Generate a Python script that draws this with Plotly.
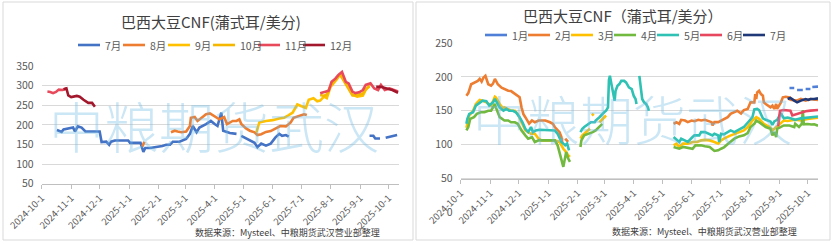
import plotly.graph_objects as go

W, H = 833, 244

# ---------------- data ----------------
TICK_DATES = ["2024-10-01", "2024-11-01", "2024-12-01", "2025-01-01", "2025-02-01", "2025-03-01",
              "2025-04-01", "2025-05-01", "2025-06-01", "2025-07-01", "2025-08-01", "2025-09-01",
              "2025-10-01"]
TICK_TEXT = ["2024-10-1", "2024-11-1", "2024-12-1", "2025-1-1", "2025-2-1", "2025-3-1",
             "2025-4-1", "2025-5-1", "2025-6-1", "2025-7-1", "2025-8-1", "2025-9-1", "2025-10-1"]

TITLE_L = "巴西大豆CNF(蒲式耳/美分)"
TITLE_R = "巴西大豆CNF（蒲式耳/美分）"
SOURCE = "数据来源：Mysteel、中粮期货武汉营业部整理"
WATERMARK = "中粮期货武汉"

# Left chart series
L_NAMES = ["7月", "8月", "9月", "10月", "11月", "12月"]
L_COLORS = ["#4472c4", "#ed7d31", "#ffc000", "#f5b700", "#e84a5c", "#a3172c"]

L_JUL = [("2024-10-17", 187), ("2024-10-22", 182), ("2024-10-24", 188), ("2024-10-31", 191),
         ("2024-11-03", 193), ("2024-11-05", 183), ("2024-11-08", 196), ("2024-11-12", 193),
         ("2024-11-14", 188), ("2024-11-16", 183), ("2024-12-01", 183), ("2024-12-03", 156),
         ("2024-12-08", 157), ("2024-12-11", 149), ("2024-12-13", 157), ("2024-12-17", 160),
         ("2024-12-31", 160), ("2025-01-02", 154), ("2025-01-13", 154), ("2025-01-14", 147),
         ("2025-01-16", 131), ("2025-01-18", 141), ("2025-01-23", 141), ("2025-02-05", 146),
         ("2025-02-09", 149), ("2025-02-13", 149), ("2025-02-16", 157), ("2025-02-23", 157),
         ("2025-03-02", 164), ("2025-03-06", 177), ("2025-03-09", 197), ("2025-03-13", 181),
         ("2025-03-16", 193), ("2025-03-23", 202), ("2025-03-28", 210), ("2025-04-01", 202),
         ("2025-04-04", 197), ("2025-04-08", 231), ("2025-04-10", 185), ("2025-04-17", 179),
         ("2025-04-24", 177), ("2025-04-26", None), ("2025-04-29", 172), ("2025-05-08", 160),
         ("2025-05-13", 154), ("2025-05-16", 143), ("2025-05-20", 152), ("2025-05-25", 147),
         ("2025-05-30", 152), ("2025-06-04", 168), ("2025-06-08", 177), ("2025-06-11", 172),
         ("2025-06-15", 174), ("2025-06-18", 170), ("2025-06-19", None), ("2025-09-11", 172),
         ("2025-09-15", 172), ("2025-09-17", 165), ("2025-09-22", 165), ("2025-09-24", None),
         ("2025-09-28", 167), ("2025-10-04", 170), ("2025-10-10", 174)]

L_AUG = [("2025-01-15", 145), ("2025-01-17", 157), ("2025-01-18", None), ("2025-02-14", 181),
         ("2025-02-18", 185), ("2025-02-21", 183), ("2025-02-25", 181), ("2025-03-02", 183),
         ("2025-03-06", 197), ("2025-03-07", 218), ("2025-03-11", 220), ("2025-03-14", 210),
         ("2025-03-18", 218), ("2025-03-23", 227), ("2025-03-27", 229), ("2025-04-01", 222),
         ("2025-04-06", 214), ("2025-04-11", 220), ("2025-04-14", 202), ("2025-04-20", 210),
         ("2025-04-24", 210), ("2025-04-27", 214), ("2025-04-29", 202), ("2025-05-04", 191),
         ("2025-05-08", 185), ("2025-05-13", 181), ("2025-05-16", 174), ("2025-05-20", 176),
         ("2025-05-25", 182), ("2025-05-30", 184), ("2025-06-04", 191), ("2025-06-09", 197),
         ("2025-06-15", 196), ("2025-06-20", 206), ("2025-06-23", 218), ("2025-06-29", 222),
         ("2025-07-04", 227), ("2025-07-07", 225)]

L_SEP = [("2025-05-15", 181), ("2025-05-18", 206), ("2025-05-25", 210), ("2025-06-01", 212),
         ("2025-06-08", 216), ("2025-06-13", 218), ("2025-06-16", 222), ("2025-06-22", 231),
         ("2025-06-27", 252), ("2025-07-02", 248), ("2025-07-06", 243), ("2025-07-09", 264),
         ("2025-07-14", 268), ("2025-07-18", 260), ("2025-07-21", 262), ("2025-07-25", 272),
         ("2025-07-28", 268), ("2025-08-01", 297), ("2025-08-04", 306), ("2025-08-08", 318),
         ("2025-08-11", 331), ("2025-08-14", 318), ("2025-08-17", 306), ("2025-08-20", 297),
         ("2025-08-24", 277), ("2025-08-29", 272), ("2025-09-04", 275), ("2025-09-07", 289),
         ("2025-09-11", 302)]

L_OCT = [("2025-07-21", 276), ("2025-07-25", 274), ("2025-07-28", 278), ("2025-08-01", 300),
         ("2025-08-04", 309), ("2025-08-08", 320), ("2025-08-11", 328), ("2025-08-14", 316),
         ("2025-08-17", 304), ("2025-08-20", 292), ("2025-08-24", 275), ("2025-08-29", 276),
         ("2025-09-04", 280), ("2025-09-07", 291), ("2025-09-11", 298)]

L_NOV = [("2024-10-07", 285), ("2024-10-10", 284), ("2024-10-13", 281), ("2024-10-16", 284),
         ("2024-10-19", 290), ("2024-10-23", 289), ("2024-10-27", 293), ("2024-10-28", None),
         ("2025-07-21", 281), ("2025-07-26", 285), ("2025-07-30", 287), ("2025-08-02", 310),
         ("2025-08-06", 318), ("2025-08-09", 327), ("2025-08-13", 335), ("2025-08-17", 310),
         ("2025-08-20", 306), ("2025-08-24", 285), ("2025-08-27", 281), ("2025-08-31", 283),
         ("2025-09-04", 289), ("2025-09-07", 302), ("2025-09-12", 306), ("2025-09-16", 293),
         ("2025-09-20", 289), ("2025-09-23", 302), ("2025-09-27", 289), ("2025-10-02", 293),
         ("2025-10-07", 289), ("2025-10-11", 285)]

L_DEC = [("2024-10-24", 291), ("2024-10-27", 293), ("2024-10-29", 275), ("2024-11-01", 271),
         ("2024-11-07", 274), ("2024-11-10", 272), ("2024-11-14", 264), ("2024-11-19", 256),
         ("2024-11-23", 256), ("2024-11-24", 252), ("2024-11-26", 246), ("2024-11-27", None),
         ("2025-09-18", 297), ("2025-09-23", 297), ("2025-09-29", 293), ("2025-10-05", 289),
         ("2025-10-11", 282)]

# Right chart series
R_NAMES = ["1月", "2月", "3月", "4月", "5月", "6月", "7月"]
R_COLORS = ["#4f7fd6", "#ed7d31", "#ffc000", "#72b940", "#2ec1b4", "#e8485f", "#1f3878"]

R_JAN = [("2025-09-12", 183.5), ("2025-09-17", 183.5), ("2025-09-18", None), ("2025-09-20", 180.5),
         ("2025-09-26", 180.5), ("2025-09-27", None), ("2025-09-29", 182), ("2025-10-04", 182),
         ("2025-10-05", None), ("2025-10-06", 185), ("2025-10-12", 185.5)]

R_FEB = [("2024-10-07", 172), ("2024-10-09", 176), ("2024-10-12", 189), ("2024-10-16", 192),
         ("2024-10-19", 194), ("2024-10-21", 197), ("2024-10-23", 193), ("2024-10-25", 199),
         ("2024-10-27", 201.5), ("2024-10-30", 189), ("2024-11-02", 187), ("2024-11-04", 190),
         ("2024-11-06", 197), ("2024-11-08", 192), ("2024-11-09", 189), ("2024-11-13", 184),
         ("2024-11-16", 182), ("2024-11-20", 179.5), ("2024-11-23", 179), ("2024-11-27", 175),
         ("2024-11-30", 172), ("2024-12-02", 170), ("2024-12-04", 155), ("2024-12-06", 145),
         ("2024-12-08", 140.5), ("2024-12-10", 136), ("2024-12-12", 131), ("2024-12-15", 135.6),
         ("2024-12-18", 133), ("2024-12-22", 135.6), ("2024-12-26", 135.6), ("2024-12-29", 135.6),
         ("2025-01-03", 133), ("2025-01-06", 130.7), ("2025-01-08", 126), ("2025-01-13", 118.5),
         ("2025-01-15", 111), ("2025-01-16", 101.5), ("2025-01-17", None), ("2025-01-19", 108.8),
         ("2025-01-22", 104), ("2025-01-23", None),
         ("2025-05-13", 130.7), ("2025-05-16", 133), ("2025-05-19", 130.7), ("2025-05-21", 136.6),
         ("2025-05-25", 135.6), ("2025-05-28", 133.2), ("2025-06-01", 135.6), ("2025-06-04", 134.6),
         ("2025-06-08", 136.6), ("2025-06-11", 135.6), ("2025-06-15", 136.6), ("2025-06-18", 135.6),
         ("2025-06-22", 133.2), ("2025-06-23", 128.3), ("2025-06-25", 133.2), ("2025-06-29", 133.2),
         ("2025-07-02", 135.6), ("2025-07-05", 138), ("2025-07-09", 140.5), ("2025-07-12", 145.4),
         ("2025-07-16", 147.8), ("2025-07-19", 150), ("2025-07-23", 146), ("2025-07-26", 151),
         ("2025-07-30", 152.7), ("2025-08-01", 160), ("2025-08-02", 162.4), ("2025-08-06", 162.4),
         ("2025-08-07", 174.6), ("2025-08-08", 167.3), ("2025-08-09", 177), ("2025-08-11", 179.5),
         ("2025-08-13", 174.6), ("2025-08-15", 172.2), ("2025-08-16", 162.4), ("2025-08-18", 160),
         ("2025-08-20", 157.6), ("2025-08-23", 155), ("2025-08-25", 157.6), ("2025-08-27", 152.7),
         ("2025-08-29", 160), ("2025-08-30", 152.7), ("2025-09-03", 162.4), ("2025-09-05", 169.8),
         ("2025-09-08", 170.7), ("2025-09-12", 169.8), ("2025-09-13", 166), ("2025-09-17", 164.9),
         ("2025-09-20", 165), ("2025-09-24", 167.3), ("2025-09-29", 164.9), ("2025-10-04", 167.3),
         ("2025-10-12", 166)]

R_MAR = [("2024-10-07", 125), ("2024-10-10", 143), ("2024-10-14", 150), ("2024-10-17", 160),
         ("2024-10-21", 165.9), ("2024-10-24", 164.9), ("2024-10-28", 162.4), ("2024-11-02", 157.6),
         ("2024-11-06", 170.7), ("2024-11-07", 169.8), ("2024-11-11", 160), ("2024-11-15", 152.7),
         ("2024-11-16", 155), ("2024-11-20", 152.7), ("2024-11-23", 150), ("2024-11-27", 150),
         ("2024-11-30", 145.4), ("2024-12-04", 133), ("2024-12-08", 121), ("2024-12-11", 118.5),
         ("2024-12-14", 116), ("2024-12-18", 116), ("2024-12-22", 108.8), ("2024-12-25", 106.3),
         ("2025-01-02", 106.3), ("2025-01-08", 106.3), ("2025-01-13", 104), ("2025-01-17", 94),
         ("2025-01-20", 89), ("2025-01-22", 84.4), ("2025-01-24", 82), ("2025-01-25", None),
         ("2025-02-04", 108.8), ("2025-02-06", 113.7), ("2025-02-10", 118.5), ("2025-02-14", 123.4),
         ("2025-02-15", None), ("2025-02-16", 145.4), ("2025-02-18", 143), ("2025-02-19", None),
         ("2025-02-24", 133), ("2025-02-27", 138), ("2025-03-03", 143), ("2025-03-04", None),
         ("2025-05-13", 99), ("2025-05-16", 101.5), ("2025-05-19", 96.6), ("2025-05-23", 101.5),
         ("2025-05-28", 101.5), ("2025-06-02", 104), ("2025-06-07", 104), ("2025-06-11", 106.3),
         ("2025-06-15", 107), ("2025-06-20", 106.3), ("2025-06-25", 104), ("2025-06-29", 101.5),
         ("2025-07-02", 106.3), ("2025-07-05", 109), ("2025-07-11", 113), ("2025-07-16", 116),
         ("2025-07-21", 118.5), ("2025-07-26", 121), ("2025-07-30", 126), ("2025-08-04", 135.6),
         ("2025-08-08", 140.5), ("2025-08-11", 138), ("2025-08-16", 130.7), ("2025-08-22", 126),
         ("2025-08-25", 121), ("2025-08-29", 126), ("2025-09-03", 133.2), ("2025-09-06", 135.6),
         ("2025-09-10", 135), ("2025-09-13", 135.6), ("2025-09-18", 136.6), ("2025-09-24", 135.6),
         ("2025-10-01", 138), ("2025-10-12", 139.6)]

R_APR = [("2024-10-07", 121), ("2024-10-09", 125.9), ("2024-10-11", 138), ("2024-10-15", 140.5),
         ("2024-10-18", 145.4), ("2024-10-22", 147.8), ("2024-10-26", 147.8), ("2024-10-30", 150),
         ("2024-11-02", 150), ("2024-11-04", 155), ("2024-11-06", 160), ("2024-11-07", 155),
         ("2024-11-11", 140.5), ("2024-11-16", 135.6), ("2024-11-20", 135.6), ("2024-11-23", 133),
         ("2024-11-27", 133), ("2024-11-30", 130.7), ("2024-12-04", 121), ("2024-12-08", 113.7),
         ("2024-12-11", 108.8), ("2024-12-15", 111), ("2024-12-18", 103.9), ("2024-12-22", 106.3),
         ("2025-01-02", 106.3), ("2025-01-08", 106.3), ("2025-01-11", 99), ("2025-01-13", 89),
         ("2025-01-15", 77), ("2025-01-17", 67.3), ("2025-01-19", 82), ("2025-01-20", 89),
         ("2025-01-22", 80), ("2025-01-23", 77), ("2025-01-24", 74.6), ("2025-01-25", None),
         ("2025-02-04", 96.6), ("2025-02-05", 106.3), ("2025-02-08", 113.7), ("2025-02-13", 116),
         ("2025-02-17", 118.5), ("2025-02-20", 121), ("2025-02-24", 125.9), ("2025-02-27", 130.7),
         ("2025-03-01", None),
         ("2025-05-13", 96.6), ("2025-05-16", 95.5), ("2025-05-19", 94), ("2025-05-23", 96.6),
         ("2025-05-28", 95.5), ("2025-06-02", 94), ("2025-06-05", 99), ("2025-06-11", 99),
         ("2025-06-15", 97.6), ("2025-06-20", 96.6), ("2025-06-25", 90.7), ("2025-06-29", 91.7),
         ("2025-07-02", 94), ("2025-07-05", 96), ("2025-07-11", 103), ("2025-07-16", 108.8),
         ("2025-07-21", 112.2), ("2025-07-26", 113.7), ("2025-07-30", 117), ("2025-08-02", 126),
         ("2025-08-06", 130.7), ("2025-08-08", 135.6), ("2025-08-11", 133.2), ("2025-08-15", 128.3),
         ("2025-08-18", 126), ("2025-08-23", 123.4), ("2025-08-25", 113.7), ("2025-08-27", 118.5),
         ("2025-08-29", 111.2), ("2025-08-30", 123.4), ("2025-09-03", 126), ("2025-09-06", 128.3),
         ("2025-09-12", 128.3), ("2025-09-17", 126), ("2025-09-18", 130.7), ("2025-09-22", 126),
         ("2025-09-25", 131), ("2025-09-26", 151), ("2025-09-27", 130), ("2025-10-01", 130.5),
         ("2025-10-05", 129.7), ("2025-10-08", 130), ("2025-10-12", 128)]

R_MAY = [("2024-10-07", 130.7), ("2024-10-08", 138), ("2024-10-10", 145.4), ("2024-10-14", 147.8),
         ("2024-10-17", 157.6), ("2024-10-21", 162.4), ("2024-10-24", 164.9), ("2024-10-28", 164),
         ("2024-10-31", 157.6), ("2024-11-04", 162.4), ("2024-11-06", 167.3), ("2024-11-07", 164.9),
         ("2024-11-11", 155), ("2024-11-15", 150), ("2024-11-18", 152.7), ("2024-11-21", 150),
         ("2024-11-25", 150), ("2024-11-28", 147.8), ("2024-12-02", 140.5), ("2024-12-05", 133),
         ("2024-12-08", 123.4), ("2024-12-11", 118.5), ("2024-12-14", 126), ("2024-12-16", 118.5),
         ("2024-12-19", 121), ("2024-12-23", 122), ("2025-01-02", 122), ("2025-01-08", 121),
         ("2025-01-11", 116), ("2025-01-13", 108.8), ("2025-01-15", 104), ("2025-01-17", 101.5),
         ("2025-01-19", 99), ("2025-01-21", 101.5), ("2025-01-22", 94), ("2025-01-23", 91.7),
         ("2025-01-24", None), ("2025-02-04", 118.5), ("2025-02-06", 123.4), ("2025-02-08", 126),
         ("2025-02-12", 130.7), ("2025-02-15", 133), ("2025-02-19", 133), ("2025-02-20", 135.6),
         ("2025-02-24", 140.5), ("2025-02-27", 145.4), ("2025-03-01", 147.8), ("2025-03-03", 150),
         ("2025-03-05", 155), ("2025-03-06", 195), ("2025-03-07", 201.5), ("2025-03-08", 194),
         ("2025-03-10", 179.5), ("2025-03-12", 164.9), ("2025-03-13", 179.5), ("2025-03-15", 186.8),
         ("2025-03-17", 189.3), ("2025-03-19", 194), ("2025-03-22", 194), ("2025-03-24", 191.7),
         ("2025-03-27", 184.4), ("2025-03-30", 182), ("2025-04-01", 172.2), ("2025-04-03", 167.3),
         ("2025-04-04", 160), ("2025-04-05", None), ("2025-04-07", 201.5), ("2025-04-09", 174.6),
         ("2025-04-10", 167.3), ("2025-04-12", 162.4), ("2025-04-14", 160), ("2025-04-16", 155),
         ("2025-04-17", 150), ("2025-04-18", None),
         ("2025-05-13", 111.2), ("2025-05-18", 106.3), ("2025-05-19", 104), ("2025-05-21", 108.8),
         ("2025-05-25", 106.3), ("2025-05-28", 104), ("2025-06-02", 111.2), ("2025-06-04", 113.7),
         ("2025-06-09", 113.7), ("2025-06-11", 118.5), ("2025-06-15", 118.5), ("2025-06-20", 116),
         ("2025-06-23", 113.7), ("2025-06-25", 116), ("2025-06-29", 113.7), ("2025-06-30", 104),
         ("2025-07-02", 116), ("2025-07-05", 115), ("2025-07-09", 118.5), ("2025-07-12", 121),
         ("2025-07-16", 118.5), ("2025-07-19", 121), ("2025-07-23", 123.4), ("2025-07-26", 126),
         ("2025-08-01", 135.6), ("2025-08-04", 140.5), ("2025-08-06", 152), ("2025-08-09", 152.7),
         ("2025-08-11", 151), ("2025-08-13", 143.7), ("2025-08-15", 138.8), ("2025-08-18", 136.6),
         ("2025-08-23", 134.2), ("2025-08-25", 129.3), ("2025-08-27", 134.2), ("2025-08-30", 136.6),
         ("2025-09-03", 146.3), ("2025-09-06", 138.8), ("2025-09-10", 140), ("2025-09-13", 138.8),
         ("2025-09-18", 136.6), ("2025-09-24", 138.8), ("2025-10-01", 140), ("2025-10-12", 141.5)]

R_JUN = [("2025-08-31", 127), ("2025-09-02", 150), ("2025-09-06", 151), ("2025-09-10", 150),
         ("2025-09-13", 150), ("2025-09-15", 143), ("2025-09-18", 144.3), ("2025-09-22", 145.4),
         ("2025-09-26", 147.8), ("2025-09-29", 149.3), ("2025-10-04", 150.2), ("2025-10-12", 151)]

R_JUL = [("2025-09-10", 167.3), ("2025-09-13", 168.8), ("2025-09-17", 164.9), ("2025-09-20", 162.4),
         ("2025-09-24", 164.9), ("2025-09-29", 167.3), ("2025-10-02", 166), ("2025-10-04", 167.3),
         ("2025-10-08", 167.3), ("2025-10-12", 168.3)]

L_SERIES = [L_JUL, L_AUG, L_SEP, L_OCT, L_NOV, L_DEC]
R_SERIES = [R_JAN, R_FEB, R_MAR, R_APR, R_MAY, R_JUN, R_JUL]

# ---------------- figure ----------------
FONT = "Noto Sans CJK SC"
GRID = "#d9d9d9"
AXIS = "#bfbfbf"
TICKC = "#595959"


def fx(px):
    return px / W


def fy(py):
    return 1 - py / H


fig = go.Figure()

for name, color, data in zip(L_NAMES, L_COLORS, L_SERIES):
    fig.add_trace(go.Scatter(x=[d for d, v in data], y=[v for d, v in data], mode="lines",
                             name=name, line=dict(color=color, width=2.6),
                             xaxis="x", yaxis="y", showlegend=False, hoverinfo="skip"))
for name, color, data in zip(R_NAMES, R_COLORS, R_SERIES):
    fig.add_trace(go.Scatter(x=[d for d, v in data], y=[v for d, v in data], mode="lines",
                             name=name, line=dict(color=color, width=2.6),
                             xaxis="x2", yaxis="y2", showlegend=False, hoverinfo="skip"))

xcommon = dict(type="date", range=["2024-10-01", "2025-10-12"], tickvals=TICK_DATES,
               ticktext=TICK_TEXT, tickangle=-45, ticks="outside", ticklen=4,
               tickcolor=AXIS, showline=True, linecolor=AXIS, linewidth=1, showgrid=False,
               zeroline=False, automargin=False,
               tickfont=dict(family=FONT, size=9.5, color=TICKC))
ycommon = dict(dtick=50, showgrid=True, gridcolor=GRID, gridwidth=1, zeroline=False,
               showline=False, ticks="", ticklabelstandoff=7, automargin=False,
               tickfont=dict(family=FONT, size=10.5, color=TICKC))

shapes = [
    dict(type="rect", xref="paper", yref="paper", x0=fx(3), x1=fx(413), y0=fy(240), y1=fy(2),
         line=dict(color="#d9d9d9", width=1), layer="below"),
    dict(type="rect", xref="paper", yref="paper", x0=fx(416), x1=fx(830), y0=fy(240), y1=fy(2),
         line=dict(color="#d9d9d9", width=1), layer="below"),
]
annotations = []


def text_at(txt, xpx, ypx, size, color="#404040", xanchor="center"):
    annotations.append(dict(text=txt, x=fx(xpx), y=fy(ypx), xref="paper", yref="paper",
                            xanchor=xanchor, yanchor="middle", showarrow=False,
                            font=dict(family=FONT, size=size, color=color)))


# titles and source
text_at(TITLE_L, 211, 21, 15)
text_at(TITLE_R, 623, 16, 15)
text_at(SOURCE, 287, 232, 9)
text_at(SOURCE, 704, 231, 9)


# manual legends
def legend(names, colors, x0, step, ypx):
    for i, (n, c) in enumerate(zip(names, colors)):
        lx = x0 + i * step
        shapes.append(dict(type="line", xref="paper", yref="paper", x0=fx(lx), x1=fx(lx + 22),
                           y0=fy(ypx), y1=fy(ypx), line=dict(color=c, width=2.6)))
        text_at(n, lx + 25, ypx, 10.5, TICKC, "left")


legend(L_NAMES, L_COLORS, 78, 45, 45)
legend(R_NAMES, R_COLORS, 485, 43, 35)


# watermarks
def watermark(x0, step, ypx, size):
    for i, ch in enumerate(WATERMARK):
        annotations.append(dict(text=ch, x=fx(x0 + i * step), y=fy(ypx), xref="paper", yref="paper",
                                xanchor="center", yanchor="middle", showarrow=False,
                                font=dict(family=FONT, size=size, color="rgba(112,185,228,0.36)",
                                          weight=300)))


watermark(76, 55, 124, 55)
watermark(500, 53, 118, 53)

fig.update_layout(
    width=W, height=H, margin=dict(l=0, r=0, t=0, b=0, autoexpand=False),
    paper_bgcolor="white", plot_bgcolor="white", showlegend=False,
    xaxis=dict(domain=[fx(41.7), fx(399)], anchor="y", **xcommon),
    yaxis=dict(domain=[fy(183.7), fy(66)], anchor="x", range=[49.7, 350.3], **ycommon),
    xaxis2=dict(domain=[fx(460.7), fx(818)], anchor="free", position=fy(178.7), **xcommon),
    yaxis2=dict(domain=[fy(212.7), fy(42.7)], anchor="x2", range=[-0.3, 250.3], **ycommon),
    shapes=shapes, annotations=annotations,
)

fig.write_html("out.html")
